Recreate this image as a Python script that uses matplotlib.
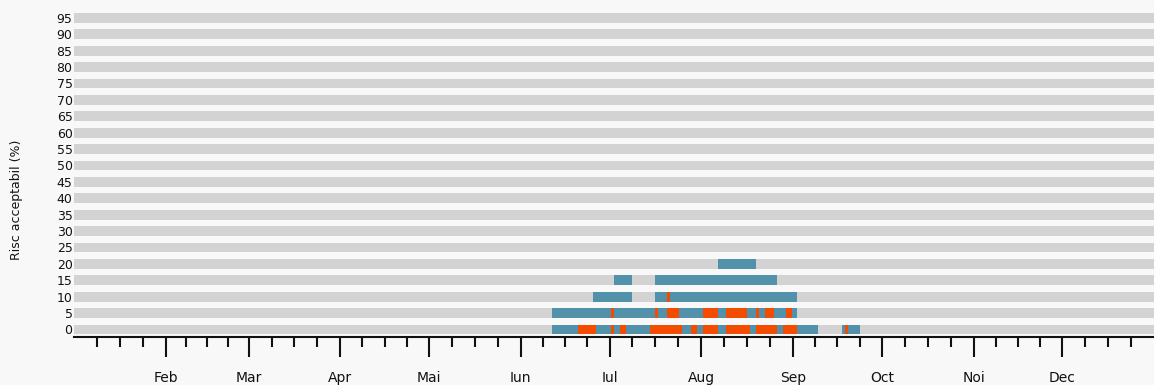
import datetime as dt

import matplotlib
matplotlib.use("Agg")
import matplotlib.pyplot as plt
from matplotlib.ticker import FixedLocator, NullFormatter

# risk levels shown on the y axis (%)
risk_levels = list(range(0, 100, 5))

# month labels (Romanian), January is left unlabelled
month_labels = ["Feb", "Mar", "Apr", "Mai", "Iun", "Iul",
                "Aug", "Sep", "Oct", "Noi", "Dec"]
month_days = [31, 28, 31, 30, 31, 30, 31, 31, 30, 31, 30, 31]

# periods per risk level: (first day, last day, kind) - "ok" blue, "hi" orange
risk_0 = [("06-12", "06-20", "ok"), ("06-21", "06-26", "hi"),
          ("06-27", "07-01", "ok"), ("07-02", "07-02", "hi"),
          ("07-03", "07-04", "ok"), ("07-05", "07-06", "hi"),
          ("07-07", "07-14", "ok"), ("07-15", "07-25", "hi"),
          ("07-26", "07-28", "ok"), ("07-29", "07-30", "hi"),
          ("07-31", "08-01", "ok"), ("08-02", "08-06", "hi"),
          ("08-07", "08-09", "ok"), ("08-10", "08-17", "hi"),
          ("08-18", "08-19", "ok"), ("08-20", "08-26", "hi"),
          ("08-27", "08-28", "ok"), ("08-29", "09-02", "hi"),
          ("09-03", "09-09", "ok"), ("09-18", "09-18", "ok"),
          ("09-19", "09-19", "hi"), ("09-20", "09-23", "ok")]
risk_5 = [("06-12", "07-01", "ok"), ("07-02", "07-02", "hi"),
          ("07-03", "07-16", "ok"), ("07-17", "07-17", "hi"),
          ("07-18", "07-20", "ok"), ("07-21", "07-24", "hi"),
          ("07-25", "08-01", "ok"), ("08-02", "08-06", "hi"),
          ("08-07", "08-09", "ok"), ("08-10", "08-16", "hi"),
          ("08-17", "08-19", "ok"), ("08-20", "08-20", "hi"),
          ("08-21", "08-22", "ok"), ("08-23", "08-25", "hi"),
          ("08-26", "08-29", "ok"), ("08-30", "08-31", "hi"),
          ("09-01", "09-02", "ok")]
risk_10 = [("06-26", "07-08", "ok"), ("07-17", "07-20", "ok"),
           ("07-21", "07-21", "hi"), ("07-22", "09-02", "ok")]
risk_15 = [("07-03", "07-08", "ok"), ("07-17", "08-26", "ok")]
risk_20 = [("08-07", "08-19", "ok")]

COLORS = {"ok": "#5191a9", "hi": "#f34c00"}
BAND = "#d3d3d3"
BG = "#f8f8f8"
BAR_H = 0.6


def day_offset(mmdd):
    """Days since Jan 1 (non-leap year)."""
    m, d = (int(p) for p in mmdd.split("-"))
    return (dt.date(2023, m, d) - dt.date(2023, 1, 1)).days


fig = plt.figure(figsize=(11.54, 3.85), dpi=100, facecolor=BG)
ax = fig.add_axes([74 / 1154, 1 - 337 / 385, 1080 / 1154, 327.3 / 385])
ax.set_facecolor(BG)

# background bands for every risk level
for i in range(len(risk_levels)):
    ax.barh(i, 365, left=0, height=BAR_H, color=BAND, linewidth=0)

for level, periods in [(0, risk_0), (5, risk_5), (10, risk_10),
                       (15, risk_15), (20, risk_20)]:
    row = risk_levels.index(level)
    for first, last, kind in periods:
        start = day_offset(first) - 0.5
        width = day_offset(last) - day_offset(first) + 1
        ax.broken_barh([(start, width)], (row - BAR_H / 2, BAR_H),
                       facecolors=COLORS[kind], linewidth=0)

ax.set_xlim(0, 365)
ax.set_ylim(-0.46, 19.5)

# month ticks and quarter-month minor ticks
starts = [sum(month_days[:i]) for i in range(12)]
minor = [s + k * n / 4 for s, n in zip(starts, month_days) for k in (1, 2, 3)]
ax.xaxis.set_major_locator(FixedLocator(starts[1:]))
ax.set_xticklabels(month_labels)
ax.xaxis.set_minor_locator(FixedLocator(minor))
ax.xaxis.set_minor_formatter(NullFormatter())
ax.tick_params(axis="x", which="major", length=14.5, width=1.5,
               pad=10, labelsize=10, colors="#111111")
ax.tick_params(axis="x", which="minor", length=7, width=1.5,
               color="#111111")

ax.set_yticks(range(len(risk_levels)))
ax.set_yticklabels([str(v) for v in risk_levels])
ax.tick_params(axis="y", length=0, pad=1, labelsize=9, labelcolor="#111111")

for side in ["left", "right", "top"]:
    ax.spines[side].set_visible(False)
ax.spines["bottom"].set_linewidth(1.5)
ax.spines["bottom"].set_color("#111111")

fig.text(17 / 1154, 1 - 200 / 385, "Risc acceptabil (%)", rotation=90,
         ha="center", va="center", fontsize=9, color="#111111")

fig.savefig("out.png", dpi=100, facecolor=BG)
